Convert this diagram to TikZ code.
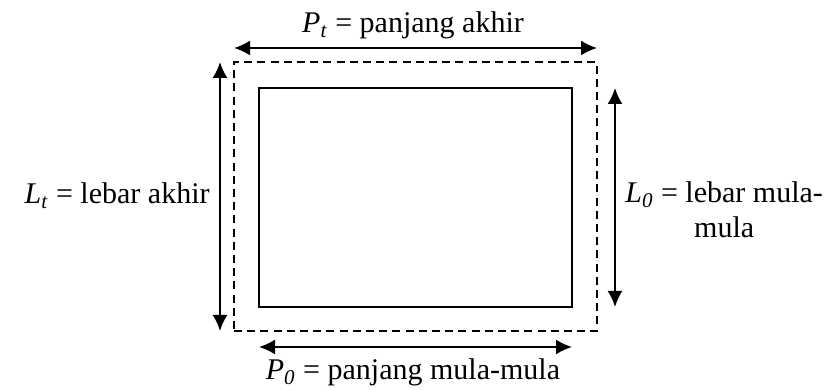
\documentclass[tikz,border=0pt]{standalone}
\usepackage{fontspec}
\setmainfont{Liberation Serif}
\usepackage{tikz}
\usetikzlibrary{arrows.meta,positioning}

\begin{document}
\begin{tikzpicture}[
  x=0.5pt,y=0.5pt,
  font=\fontsize{15}{17.5}\selectfont,
  box/.style={draw,inner sep=0pt,outer sep=0pt},
  outerbox/.style={box,dashed,dash pattern=on 4pt off 2.6pt,line width=0.75pt,minimum width=181.5pt,minimum height=134.5pt},
  innerbox/.style={box,line width=0.75pt,minimum width=156.5pt,minimum height=109.5pt},
  dimarrow/.style={{Latex[length=8pt,width=7.5pt]}-{Latex[length=8pt,width=7.5pt]},line width=1pt},
  lbl/.style={inner sep=0pt,align=center}
]
\useasboundingbox (0,0) rectangle (835,390);
\node[outerbox] (outer) at (415.5,193.5) {};
\node[innerbox] (inner) at (415.5,192.5) {};

\node[lbl,anchor=base] (ptlabel) at (413,357) {\textit{P}\textsubscript{\textit{t}} = panjang akhir};
\node[lbl,anchor=base east] (ltlabel) at (210,186) {\textit{L}\textsubscript{\textit{t}} = lebar akhir};
\node[lbl,anchor=base] (p0label) at (413,10) {\textit{P}\textsubscript{\textit{0}} = panjang mula-mula};
\node[lbl,anchor=west] (l0label) at (625,180) {\textit{L}\textsubscript{\textit{0}} = lebar mula-\\mula};

\draw[dimarrow] ([yshift=7pt]outer.north west) -- ([yshift=7pt]outer.north east);
\draw[dimarrow] ([xshift=-7pt]outer.north west) -- ([xshift=-7pt]outer.south west);
\draw[dimarrow] ([xshift=21.5pt]inner.north east) -- ([xshift=21.5pt]inner.south east);
\draw[dimarrow] ([yshift=-20pt]inner.south west) -- ([yshift=-20pt]inner.south east);
\end{tikzpicture}
\end{document}
